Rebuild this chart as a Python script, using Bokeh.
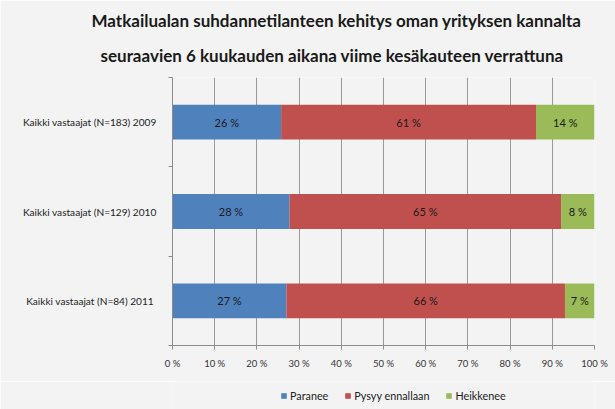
from bokeh.plotting import figure
from bokeh.layouts import column
from bokeh.models import (Range1d, FixedTicker, Title, Legend, LegendItem, ColumnDataSource)
from bokeh.core.properties import value
from bokeh.embed import file_html
from bokeh.resources import INLINE

# ---- data ----
categories = ["Kaikki vastaajat (N=183) 2009",
              "Kaikki vastaajat (N=129) 2010",
              "Kaikki vastaajat (N=84)  2011"]
paranee = [26, 28, 27]
pysyy = [61, 65, 66]
heikkenee = [14, 8, 7]
series_names = ["Paranee", "Pysyy ennallaan", "Heikkenee"]
series_colors = ["#4F81BD", "#C0504D", "#9BBB59"]
x_ticks = [0, 10, 20, 30, 40, 50, 60, 70, 80, 90, 100]
title_lines = ["Matkailualan suhdannetilanteen kehitys oman yrityksen kannalta",
               "seuraavien 6 kuukauden aikana viime kesäkauteen verrattuna"]

FONT = "Lato"
BG = "#f3f3f3"

# 100 % stacked: normalise each row
rows = list(zip(paranee, pysyy, heikkenee))
ypos = [i + 0.5 for i in range(len(categories))]
lefts, rights, vals = [[], [], []], [[], [], []], [[], [], []]
for r in rows:
    tot = float(sum(r))
    acc = 0.0
    for k, v in enumerate(r):
        share = v / tot * 100
        lefts[k].append(acc)
        rights[k].append(acc + share)
        vals[k].append(v)
        acc += share

p = figure(frame_width=422, frame_height=268, output_backend="svg", toolbar_location=None,
           x_range=Range1d(0, 100), y_range=Range1d(3, 0), title=None,
           min_border_left=172, min_border_right=21, min_border_top=77, min_border_bottom=36)
p.background_fill_color = BG
p.border_fill_color = BG
p.outline_line_color = None

for k in range(3):
    src = ColumnDataSource(dict(y=ypos, left=lefts[k], right=rights[k],
                                mid=[(a + b) / 2 for a, b in zip(lefts[k], rights[k])],
                                lab=["%d %%" % v for v in vals[k]]))
    p.hbar(y="y", left="left", right="right", height=0.39, source=src,
           fill_color=series_colors[k], line_color=None)
    p.text(x="mid", y="y", text="lab", source=src, text_align="center",
           text_baseline="middle", text_font=value(FONT),
           text_font_size="11px", text_color="#1a1a1a")

# x axis
p.xaxis.ticker = FixedTicker(ticks=x_ticks)
p.xaxis.major_label_overrides = {t: "%d %%" % t for t in x_ticks}
p.xaxis.axis_line_color = "#8c8c8c"
p.xaxis.major_tick_line_color = "#8c8c8c"
p.xaxis.major_tick_out = 4
p.xaxis.major_tick_in = 0
p.xaxis.minor_tick_line_color = None
p.xaxis.major_label_text_font = FONT
p.xaxis.major_label_text_font_size = "9.5px"
p.xaxis.major_label_text_color = "#333333"
p.xaxis.major_label_standoff = 8

# y axis
p.yaxis.ticker = FixedTicker(ticks=ypos, minor_ticks=[0, 1, 2, 3])
p.yaxis.major_label_overrides = {y: c for y, c in zip(ypos, categories)}
p.yaxis.axis_line_color = "#8c8c8c"
p.yaxis.major_tick_line_color = None
p.yaxis.major_tick_out = 0
p.yaxis.major_tick_in = 0
p.yaxis.minor_tick_line_color = "#8c8c8c"
p.yaxis.minor_tick_out = 4
p.yaxis.minor_tick_in = 0
p.yaxis.major_label_text_font = FONT
p.yaxis.major_label_text_font_size = "10.1px"
p.yaxis.major_label_text_color = "#222222"
p.yaxis.major_label_standoff = 12

# grids
p.xgrid.ticker = FixedTicker(ticks=x_ticks)
p.xgrid.grid_line_color = "#9a9a9a"
p.ygrid.grid_line_color = None

# title (two lines), second line closest to the plot
p.add_layout(Title(text=title_lines[1], align="left", offset=-72, standoff=24,
                   text_font=FONT, text_font_style="bold", text_font_size="17px",
                   text_color="#1a1a1a"), "above")
p.add_layout(Title(text=title_lines[0], align="left", offset=-81, standoff=0,
                   text_font=FONT, text_font_style="bold", text_font_size="17px",
                   text_color="#1a1a1a"), "above")

# legend strip (separate small figure below the chart, frame aligned with the chart)
lg = figure(width=615, height=28, output_backend="svg", toolbar_location=None,
            x_axis_location=None, y_axis_location=None, title=None,
            min_border=0, x_range=Range1d(0, 1), y_range=Range1d(0, 1))
lg.background_fill_color = BG
lg.border_fill_color = BG
lg.outline_line_color = None
lg.xgrid.visible = False
lg.ygrid.visible = False
swatches = [lg.hbar(y=[0.5], left=[0], right=[0], height=0, fill_color=c, line_color=None)
            for c in series_colors]
legend = Legend(items=[LegendItem(label=n, renderers=[r]) for n, r in zip(series_names, swatches)],
                orientation="horizontal", location=(108, 7),
                background_fill_alpha=0, border_line_color=None,
                glyph_width=7, glyph_height=7, label_standoff=3, spacing=16,
                padding=0, margin=0, label_height=14,
                label_text_font=FONT, label_text_font_size="10.8px", label_text_color="#222222")
lg.add_layout(legend, "center")

open("out.html", "w").write(file_html(column(p, lg, spacing=0), INLINE))
